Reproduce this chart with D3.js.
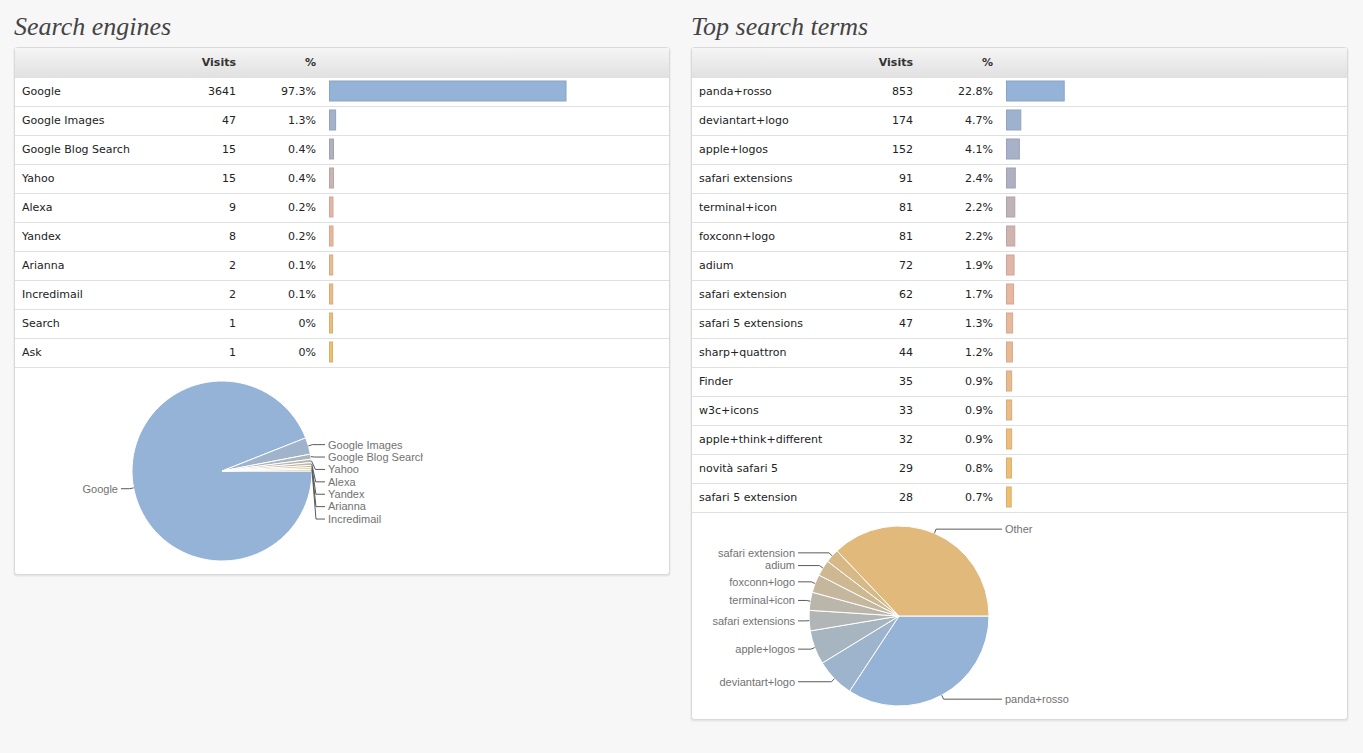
<!DOCTYPE html>
<html>
<head>
<meta charset="utf-8">
<script src="https://cdn.jsdelivr.net/npm/d3@7"></script>
<style>
	body { margin: 0; background: #f7f7f7; }
	svg { display: block; }
	.cell { font-family: "DejaVu Sans", sans-serif; font-size: 11px; fill: #222; }
	.head { font-family: "DejaVu Sans", sans-serif; font-size: 11px; font-weight: bold; fill: #333; }
	.title { font-family: "Liberation Serif", serif; font-style: italic; font-size: 26px; fill: #444; }
	.pie-label { font-family: "Liberation Sans", Arial, sans-serif; font-size: 11px; fill: #727272; }
</style>
</head>
<body>
<svg id="page"></svg>
<script>
// search engines table
const engineNames = ["Google", "Google Images", "Google Blog Search", "Yahoo", "Alexa", "Yandex", "Arianna", "Incredimail", "Search", "Ask"];
const engineVisits = [3641, 47, 15, 15, 9, 8, 2, 2, 1, 1];
const enginePercent = [97.3, 1.3, 0.4, 0.4, 0.2, 0.2, 0.1, 0.1, 0, 0];
const enginePieLabels = ["Google", "Google Images", "Google Blog Search", "Yahoo", "Alexa", "Yandex", "Arianna", "Incredimail"];
const enginePieShares = [94.0, 3.0, 0.9, 0.6, 0.5, 0.4, 0.3, 0.3];

// search terms table
const termNames = ["panda+rosso", "deviantart+logo", "apple+logos", "safari extensions", "terminal+icon", "foxconn+logo", "adium", "safari extension", "safari 5 extensions", "sharp+quattron", "Finder", "w3c+icons", "apple+think+different", "novità safari 5", "safari 5 extension"];
const termVisits = [853, 174, 152, 91, 81, 81, 72, 62, 47, 44, 35, 33, 32, 29, 28];
const termPercent = [22.8, 4.7, 4.1, 2.4, 2.2, 2.2, 1.9, 1.7, 1.3, 1.2, 0.9, 0.9, 0.9, 0.8, 0.7];
// search terms pie
const termPieLabels = ["panda+rosso", "deviantart+logo", "apple+logos", "safari extensions", "terminal+icon", "foxconn+logo", "adium", "safari extension", "Other"];
const termPieValues = [853, 174, 152, 91, 81, 81, 72, 62, 924];

const svg = d3.select("#page")
	.attr("width", 1363)
	.attr("height", 753);

const defs = svg.append("defs");
const grad = defs.append("linearGradient")
	.attr("id", "headGrad")
	.attr("x1", 0).attr("y1", 0).attr("x2", 0).attr("y2", 1);
grad.append("stop").attr("offset", "0%").attr("stop-color", "#f5f5f5");
grad.append("stop").attr("offset", "100%").attr("stop-color", "#e1e1e1");

// bar colours drift from blue to orange down the table
const barColor = d3.scaleLinear()
	.domain([0, 0.22, 0.45, 1])
	.range(["#95b3d7", "#b0b0c0", "#e6b6a6", "#efbf70"]);

const pieColor = d3.interpolateRgb("#94b3d7", "#e0b97b");

class StatsPanel {
	constructor(_config, _data) {
		this.config = {
			parent: _config.parent,
			x: _config.x,
			y: _config.y,
			id: _config.id,
			title: _config.title,
			width: _config.width || 656,
			headerHeight: 30,
			rowHeight: 29,
			pieHeight: 208,
			pieCx: 208,
			pieCy: 104,
			pieR: 90,
			pieClip: 409,
			cols: {name: 8, visits: 222, pct: 302, bar: 315}
		};
		this.data = _data;
		this.initVis();
	}

	initVis() {
		let vis = this;
		let c = vis.config;

		vis.rows = vis.data.names.map((d, i) => ({name: d, visits: vis.data.visits[i], pct: vis.data.percent[i]}));
		vis.tableHeight = c.headerHeight + vis.rows.length * c.rowHeight;
		vis.height = vis.tableHeight + c.pieHeight;

		vis.g = c.parent.append("g")
			.attr("transform", `translate(${c.x},${c.y})`);

		vis.g.append("text")
			.attr("class", "title")
			.attr("x", 0)
			.attr("y", -12)
			.text(c.title);

		// panel box with a faint shadow
		vis.g.append("rect")
			.attr("x", -0.5).attr("y", 0.5)
			.attr("width", c.width + 1).attr("height", vis.height + 1)
			.attr("rx", 3)
			.attr("fill", "#e6e6e6");
		vis.g.append("rect")
			.attr("x", 0.5).attr("y", 0.5)
			.attr("width", c.width - 1).attr("height", vis.height - 1)
			.attr("rx", 3)
			.attr("fill", "#fff")
			.attr("stroke", "#d9d9d9");

		vis.g.append("rect")
			.attr("x", 1).attr("y", 1)
			.attr("width", c.width - 2).attr("height", c.headerHeight - 1)
			.attr("fill", "url(#headGrad)");

		vis.renderTable();
		vis.renderPie();
	}

	renderTable() {
		let vis = this;
		let c = vis.config;

		let head = vis.g.append("g").attr("transform", `translate(0,${c.headerHeight / 2})`);
		head.append("text").attr("class", "head")
			.attr("x", c.cols.visits).attr("dy", "0.35em")
			.attr("text-anchor", "end").text("Visits");
		head.append("text").attr("class", "head")
			.attr("x", c.cols.pct).attr("dy", "0.35em")
			.attr("text-anchor", "end").text("%");

		vis.yRow = d3.scaleBand()
			.domain(vis.rows.map(d => d.name))
			.range([c.headerHeight, vis.tableHeight]);

		vis.xBar = d3.scaleLinear()
			.domain([0, 100])
			.range([4, 244]);

		let n = vis.rows.length;

		let row = vis.g.selectAll(".row")
			.data(vis.rows)
			.join("g")
			.attr("class", "row")
			.attr("transform", d => `translate(0,${vis.yRow(d.name)})`);

		row.append("line")
			.attr("x1", 1).attr("x2", c.width - 1)
			.attr("y1", 0.5).attr("y2", 0.5)
			.attr("stroke", "#e0e0e0");

		row.append("text").attr("class", "cell")
			.attr("x", c.cols.name).attr("y", c.rowHeight / 2 - 0.5).attr("dy", "0.35em")
			.text(d => d.name);

		row.append("text").attr("class", "cell")
			.attr("x", c.cols.visits).attr("y", c.rowHeight / 2 - 0.5).attr("dy", "0.35em")
			.attr("text-anchor", "end")
			.text(d => d.visits);

		row.append("text").attr("class", "cell")
			.attr("x", c.cols.pct).attr("y", c.rowHeight / 2 - 0.5).attr("dy", "0.35em")
			.attr("text-anchor", "end")
			.text(d => d.pct + "%");

		row.append("rect")
			.attr("x", c.cols.bar + 0.5).attr("y", 4)
			.attr("width", d => vis.xBar(d.pct) - 1)
			.attr("height", 20)
			.attr("fill", (d, i) => barColor(i / (n - 1)))
			.attr("stroke", (d, i) => d3.color(barColor(i / (n - 1))).darker(0.25))
			.attr("stroke-width", 1);

		// line under the last row
		vis.g.append("line")
			.attr("x1", 1).attr("x2", c.width - 1)
			.attr("y1", vis.tableHeight + 0.5).attr("y2", vis.tableHeight + 0.5)
			.attr("stroke", "#e0e0e0");
	}

	renderPie() {
		let vis = this;
		let c = vis.config;
		let r = c.pieR;

		let clipId = "clip_" + c.id;
		defs.append("clipPath").attr("id", clipId)
			.append("rect")
			.attr("x", 0).attr("y", vis.tableHeight + 1)
			.attr("width", c.pieClip).attr("height", c.pieHeight - 2);

		let pieG = vis.g.append("g").attr("clip-path", `url(#${clipId})`)
			.append("g")
			.attr("transform", `translate(${c.pieCx},${vis.tableHeight + c.pieCy})`);

		let slices = vis.data.pieLabels.map((d, i) => ({label: d, value: vis.data.pieValues[i]}));
		let n = slices.length;

		// start at three o'clock and go clockwise
		let arcs = d3.pie()
			.sort(null)
			.value(d => d.value)
			.startAngle(Math.PI / 2)
			.endAngle(Math.PI / 2 + 2 * Math.PI)(slices);

		let arc = d3.arc().innerRadius(0).outerRadius(r);

		pieG.selectAll("path.slice")
			.data(arcs)
			.join("path")
			.attr("class", "slice")
			.attr("d", arc)
			.attr("fill", (d, i) => pieColor(i / (n - 1)))
			.attr("stroke", "#fff")
			.attr("stroke-width", 1);

		arcs.forEach(a => {
			a.mid = (a.startAngle + a.endAngle) / 2;
			a.px = Math.sin(a.mid) * r;
			a.py = -Math.cos(a.mid) * r;
			a.side = a.px >= 0 ? 1 : -1;
			a.ly = a.py * 1.05;
		});

		// keep the labels on each side from overlapping
		[1, -1].forEach(side => {
			let list = arcs.filter(a => a.side == side).sort((a, b) => a.py - b.py);
			for (let i = 1; i < list.length; i++) {
				if (list[i].ly < list[i - 1].ly + 12.4) list[i].ly = list[i - 1].ly + 12.4;
			}
		});

		let line = d3.line();

		pieG.selectAll("path.leader")
			.data(arcs)
			.join("path")
			.attr("class", "leader")
			.attr("fill", "none")
			.attr("stroke", "#5a5a5a")
			.attr("stroke-width", 1)
			.attr("d", a => {
				let lx = a.side > 0 ? r + 13 : -(r + 11);
				return line([
					[a.px, a.py],
					[a.px * (r + 4) / r, a.ly],
					[lx, a.ly]
				]);
			});

		pieG.selectAll("text.pie-label")
			.data(arcs)
			.join("text")
			.attr("class", "pie-label")
			.attr("x", a => a.side > 0 ? r + 16 : -(r + 14))
			.attr("y", a => a.ly)
			.attr("dy", "0.35em")
			.attr("text-anchor", a => a.side > 0 ? "start" : "end")
			.text(a => a.data.label);
	}
}

new StatsPanel({parent: svg, x: 14, y: 47, id: "engines", title: "Search engines"}, {
	names: engineNames,
	visits: engineVisits,
	percent: enginePercent,
	pieLabels: enginePieLabels,
	pieValues: enginePieShares
});

new StatsPanel({parent: svg, x: 691, y: 47, id: "terms", title: "Top search terms", width: 657}, {
	names: termNames,
	visits: termVisits,
	percent: termPercent,
	pieLabels: termPieLabels,
	pieValues: termPieValues
});
</script>
</body>
</html>
